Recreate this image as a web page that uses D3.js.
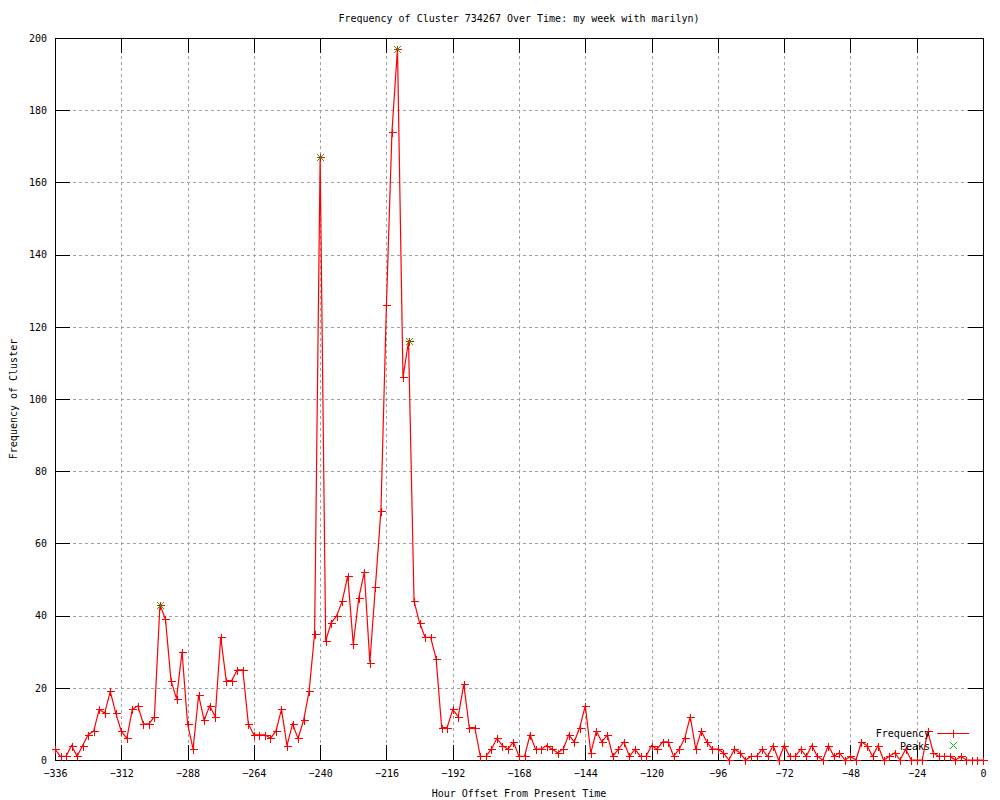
<!DOCTYPE html>
<html>
<head>
<meta charset="utf-8">
<script src="https://cdn.jsdelivr.net/npm/d3@7"></script>
<style>
  body { margin: 0; background: #fff; }
  text { font-family: "DejaVu Sans Mono", monospace; font-size: 10px; fill: #000; }
</style>
</head>
<body>
<div id="container"></div>
<script>
var width = 1000;
var height = 800;

// hours before present, one sample every 2 hours
var hourStart = -336;
var hourStep = 2;
var frequency = [
  3, 1, 1, 4, 1, 4, 7, 8, 14, 13, 19, 13, 8, 6, 14, 15, 10, 10, 12, 43,
  39, 22, 17, 30, 10, 3, 18, 11, 15, 12, 34, 22, 22, 25, 25, 10, 7, 7, 7, 6,
  8, 14, 4, 10, 6, 11, 19, 35, 167, 33, 38, 40, 44, 51, 32, 45, 52, 27, 48, 69,
  126, 174, 197, 106, 116, 44, 38, 34, 34, 28, 9, 9, 14, 12, 21, 9, 9, 1, 1, 3,
  6, 4, 3, 5, 1, 1, 7, 3, 3, 4, 3, 2, 3, 7, 5, 9, 15, 2, 8, 5,
  7, 1, 3, 5, 1, 3, 1, 1, 4, 3, 5, 5, 1, 3, 6, 12, 3, 8, 5, 3,
  3, 2, 0, 3, 2, 0, 1, 1, 3, 1, 4, 0, 4, 1, 1, 3, 1, 4, 1, 0,
  4, 1, 2, 0, 1, 0, 5, 4, 1, 4, 0, 1, 2, 0, 3, 0, 0, 0, 8, 2,
  1, 1, 1, 0, 1, 0, 0, 0, 0
];
var peakHours = [-298, -240, -212, -208];
var peakValues = [43, 167, 197, 116];

var xTicks = [-336, -312, -288, -264, -240, -216, -192, -168, -144, -120, -96, -72, -48, -24, 0];
var yTicks = [0, 20, 40, 60, 80, 100, 120, 140, 160, 180, 200];

var freqData = frequency.map(function(v, i) {
    return { hour: hourStart + i * hourStep, value: v };
});
var peakData = peakHours.map(function(h, i) {
    return { hour: h, value: peakValues[i] };
});

var svg = d3.select("div#container").append("svg")
    .attr("width", width)
    .attr("height", height);

var plotLeft = 55, plotRight = 983, plotTop = 38, plotBottom = 760;

var x = d3.scaleLinear().domain([-336, 0]).range([plotLeft, plotRight]);
var y = d3.scaleLinear().domain([0, 200]).range([plotBottom, plotTop]);

// grid
var grid = svg.append("g")
    .attr("stroke", "#a0a0a0")
    .attr("stroke-dasharray", "3,3")
    .attr("shape-rendering", "crispEdges");
grid.selectAll("line.vg")
    .data(xTicks)
    .enter().append("line")
    .attr("x1", function(d) { return Math.round(x(d)) + 0.5; })
    .attr("x2", function(d) { return Math.round(x(d)) + 0.5; })
    .attr("y1", plotTop)
    .attr("y2", plotBottom);
grid.selectAll("line.hg")
    .data(yTicks)
    .enter().append("line")
    .attr("y1", function(d) { return Math.round(y(d)) + 0.5; })
    .attr("y2", function(d) { return Math.round(y(d)) + 0.5; })
    .attr("x1", plotLeft)
    .attr("x2", plotRight);

// axes, ticks point inward like gnuplot
function styleAxis(g) {
    g.select(".domain").remove();
    g.selectAll(".tick line").attr("stroke", "#000").attr("shape-rendering", "crispEdges");
    g.selectAll("text").attr("font-family", null).attr("font-size", null);
}

svg.append("g")
    .attr("transform", "translate(0," + plotBottom + ")")
    .call(d3.axisBottom(x).tickValues(xTicks).tickSize(-15).tickPadding(10))
    .call(styleAxis);
svg.append("g")
    .attr("transform", "translate(0," + plotTop + ")")
    .call(d3.axisTop(x).tickValues(xTicks).tickSize(-15).tickFormat(""))
    .call(styleAxis);
svg.append("g")
    .attr("transform", "translate(" + plotLeft + ",0)")
    .call(d3.axisLeft(y).tickValues(yTicks).tickSize(-15).tickPadding(8))
    .call(styleAxis);
svg.append("g")
    .attr("transform", "translate(" + plotRight + ",0)")
    .call(d3.axisRight(y).tickValues(yTicks).tickSize(-15).tickFormat(""))
    .call(styleAxis);

// border
svg.append("rect")
    .attr("x", plotLeft + 0.5)
    .attr("y", plotTop + 0.5)
    .attr("width", plotRight - plotLeft)
    .attr("height", plotBottom - plotTop)
    .attr("fill", "none")
    .attr("stroke", "#000")
    .attr("shape-rendering", "crispEdges");

// frequency line
var line = d3.line()
    .x(function(d) { return x(d.hour); })
    .y(function(d) { return y(d.value); });

svg.append("path")
    .datum(freqData)
    .attr("d", line)
    .attr("fill", "none")
    .attr("stroke", "#ff0000")
    .attr("stroke-width", 1.2);

function plus(px, py, r) {
    return "M" + (px - r) + "," + py + "H" + (px + r) + "M" + px + "," + (py - r) + "V" + (py + r);
}
function cross(px, py, r) {
    return "M" + (px - r) + "," + (py - r) + "L" + (px + r) + "," + (py + r) +
           "M" + (px - r) + "," + (py + r) + "L" + (px + r) + "," + (py - r);
}

svg.append("g").selectAll("path")
    .data(freqData)
    .enter().append("path")
    .attr("d", function(d) { return plus(Math.round(x(d.hour)) + 0.5, Math.round(y(d.value)) + 0.5, 4); })
    .attr("stroke", "#ff0000")
    .attr("stroke-width", 1)
    .attr("shape-rendering", "crispEdges");

svg.append("g").selectAll("path")
    .data(peakData)
    .enter().append("path")
    .attr("d", function(d) { return cross(Math.round(x(d.hour)) + 0.5, Math.round(y(d.value)) + 0.5, 3.5); })
    .attr("stroke", "#00c000")
    .attr("stroke-width", 1);

// legend
var legend = svg.append("g");
legend.append("text").attr("x", 930).attr("y", 737).attr("text-anchor", "end").text("Frequency");
legend.append("line")
    .attr("x1", 937).attr("x2", 969).attr("y1", 733.5).attr("y2", 733.5)
    .attr("stroke", "#ff0000").attr("shape-rendering", "crispEdges");
legend.append("path").attr("d", plus(953.5, 733.5, 4)).attr("stroke", "#ff0000").attr("shape-rendering", "crispEdges");
legend.append("text").attr("x", 930).attr("y", 750).attr("text-anchor", "end").text("Peaks");
legend.append("path").attr("d", cross(953.5, 745.5, 3.5)).attr("stroke", "#00c000");

// titles
svg.append("text")
    .attr("x", 519).attr("y", 22)
    .attr("text-anchor", "middle")
    .text("Frequency of Cluster 734267 Over Time: my week with marilyn)");
svg.append("text")
    .attr("x", 519).attr("y", 797)
    .attr("text-anchor", "middle")
    .text("Hour Offset From Present Time");
svg.append("text")
    .attr("transform", "translate(17,399) rotate(-90)")
    .attr("text-anchor", "middle")
    .text("Frequency of Cluster");
</script>
</body>
</html>
